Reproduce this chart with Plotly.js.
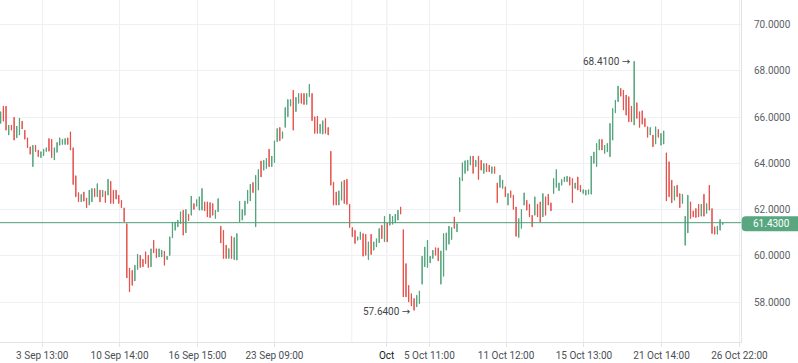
<!DOCTYPE html>
<html><head><meta charset="utf-8">
<script src="https://cdn.plot.ly/plotly-3.0.1.min.js"></script>
<style>html,body{margin:0;padding:0;background:#fff;overflow:hidden}#chart{width:798px;height:363px}</style>
</head><body><div id="chart"></div>
<script>
// ---- data ----
const openP = [
65.72,66.47,66.47,65.22,65.65,65.99,65.10,65.22,65.82,65.43,
65.10,64.71,63.85,64.78,64.57,64.24,64.32,64.50,65.07,65.04,
64.14,64.47,64.78,64.81,64.81,65.10,65.36,64.67,63.46,62.73,
62.33,62.76,62.50,62.19,62.33,62.91,62.55,62.84,62.55,62.79,
62.62,63.22,62.84,62.84,62.62,62.40,62.07,61.39,59.47,59.37,
58.91,59.40,60.02,59.85,60.17,60.02,59.52,60.67,60.30,59.95,
59.95,60.20,59.83,60.01,60.77,61.10,61.25,61.39,61.97,60.99,
61.80,61.75,62.26,62.14,61.97,61.97,62.33,62.33,62.30,62.26,
61.61,61.90,61.28,61.10,60.46,59.88,60.84,59.83,59.81,61.46,
61.54,61.75,62.26,62.37,63.17,61.25,62.84,64.10,63.70,63.77,
64.61,63.85,64.03,64.93,65.55,65.07,65.55,66.01,66.47,67.16,
66.23,66.59,67.02,67.02,66.54,66.88,67.02,66.01,66.04,65.29,
65.26,65.94,65.55,64.52,63.18,62.76,62.19,62.40,63.27,63.31,
62.23,61.22,61.10,60.67,60.70,60.96,60.93,59.83,60.93,60.24,
60.38,60.56,61.32,60.60,61.42,61.32,61.36,61.42,61.54,62.11,
61.13,59.66,58.72,58.36,58.15,57.79,57.93,58.77,59.52,59.49,
59.69,59.88,60.35,60.34,58.77,59.11,60.24,60.50,60.70,61.68,
61.03,61.90,63.24,63.56,63.67,63.92,64.31,63.85,64.31,64.13,
63.56,63.99,63.92,63.56,63.85,63.15,62.95,62.91,62.98,62.19,
62.81,62.62,62.11,60.79,61.18,62.19,62.40,62.23,61.75,61.75,
62.23,62.33,61.68,62.55,62.66,62.29,62.69,62.95,62.81,63.05,
63.20,63.20,63.41,63.34,62.91,63.41,63.05,62.69,62.62,62.66,
62.66,63.99,63.85,64.57,65.03,64.42,64.49,64.28,65.00,66.18,
66.66,67.24,67.16,66.95,66.88,66.47,65.65,66.62,66.23,66.27,
65.94,65.58,65.22,65.22,64.83,65.46,64.78,64.83,64.45,64.06,
63.27,62.40,63.05,62.69,62.26,60.45,60.99,62.33,61.94,62.04,
62.23,61.71,62.66,61.83,63.05,62.04,61.25,60.93,61.10,61.35];
const highP = [
66.23,66.47,66.47,65.65,65.65,65.99,65.61,65.95,65.82,65.43,
65.10,64.71,64.78,64.78,64.57,64.50,64.61,64.67,65.07,65.04,
64.67,64.90,65.10,65.03,65.07,65.10,65.36,64.67,63.46,62.73,
62.65,62.76,62.50,62.84,62.91,62.91,63.12,62.84,62.84,62.79,
63.31,63.22,62.84,62.84,62.62,62.40,62.07,61.39,59.47,59.37,
59.59,60.07,60.02,59.85,60.17,60.02,60.30,60.67,60.30,60.30,
60.24,60.20,59.98,60.82,61.46,61.46,61.54,61.90,61.97,62.00,
61.80,62.58,62.26,62.43,62.55,62.91,62.33,62.33,62.30,62.26,
61.97,62.47,61.28,61.10,60.46,60.31,60.84,60.79,60.96,62.36,
62.00,62.37,62.84,63.10,63.17,63.48,63.73,64.10,64.13,64.21,
64.61,64.31,64.97,65.50,65.55,65.36,66.41,66.76,66.76,67.16,
66.85,67.02,67.02,67.02,67.02,67.42,67.02,66.01,66.04,65.69,
65.84,65.94,65.55,64.52,63.18,62.76,62.81,63.20,63.27,63.31,
62.23,61.22,61.10,60.82,61.03,60.96,60.93,60.60,60.93,60.60,
60.74,61.18,61.32,61.71,61.42,61.80,61.71,61.80,61.97,62.11,
61.13,59.66,58.72,58.36,58.15,58.29,58.48,59.98,60.38,60.67,
59.98,60.24,60.35,60.34,60.21,60.96,60.99,61.28,61.22,61.68,
61.39,63.38,64.02,64.11,64.13,64.31,64.31,64.13,64.31,64.13,
63.99,63.99,63.92,63.85,63.85,63.15,63.48,63.27,62.98,62.69,
62.81,62.62,62.11,61.61,62.00,62.72,62.40,62.23,61.75,62.55,
62.23,62.33,62.69,62.55,62.66,62.29,63.34,63.73,63.15,63.30,
63.41,63.44,63.41,63.34,63.15,63.41,63.05,62.86,62.84,62.86,
64.31,64.49,64.86,65.03,65.03,64.78,64.86,65.72,66.37,66.73,
67.34,67.24,67.16,66.95,66.88,66.47,68.41,66.62,66.23,66.27,
65.94,65.58,65.55,65.22,65.58,65.46,65.29,65.40,64.45,64.06,
63.27,63.01,63.05,62.69,62.66,61.71,62.62,62.33,61.94,62.04,
62.23,62.23,62.66,62.26,63.05,62.04,61.25,61.28,61.57,61.45];
const lowP = [
65.72,65.82,65.43,65.22,65.43,65.00,65.10,65.22,65.48,65.04,
64.67,64.39,63.85,64.50,64.28,64.24,64.32,64.50,64.52,64.24,
64.14,64.47,64.78,64.81,64.81,64.81,64.57,63.08,62.55,62.33,
62.33,62.36,62.07,62.19,62.33,62.55,62.55,62.33,62.55,62.30,
62.62,62.26,62.26,62.45,62.26,62.07,61.47,59.04,58.44,58.72,
58.91,59.40,59.49,59.52,59.66,59.49,59.52,60.12,59.91,59.95,
59.95,59.59,59.83,60.01,60.77,61.10,61.25,61.39,60.89,60.99,
61.51,61.75,62.00,62.14,61.97,61.97,61.94,61.68,61.65,61.75,
61.61,61.90,60.55,59.88,59.88,59.88,59.88,59.83,59.81,61.46,
61.54,61.75,62.26,62.37,62.73,61.25,62.84,63.41,63.70,63.77,
63.85,63.85,64.03,64.93,64.97,65.07,65.55,66.01,66.47,65.43,
66.23,66.59,66.59,66.54,66.54,66.88,65.84,65.29,65.29,65.29,
65.26,65.29,65.22,63.05,62.19,62.19,62.19,62.40,62.26,62.22,
61.22,60.82,60.53,60.67,60.70,59.98,60.02,59.83,60.05,60.24,
60.38,60.56,60.74,60.60,60.60,61.32,61.36,61.42,61.54,61.80,
58.22,58.22,58.00,57.83,57.64,57.79,57.93,58.77,59.52,59.49,
59.69,59.88,60.02,59.78,58.77,59.11,60.24,60.50,60.70,61.18,
61.03,61.90,63.24,63.56,63.67,63.92,63.56,63.85,63.30,63.70,
63.56,63.63,63.63,63.56,63.56,62.29,62.95,62.91,62.55,62.19,
62.52,62.00,60.84,60.79,61.18,62.19,61.97,61.68,61.25,61.75,
61.68,61.46,61.68,61.75,62.19,61.94,62.69,62.95,62.81,63.05,
63.20,63.20,63.05,62.29,62.91,62.84,62.76,62.69,62.62,62.66,
62.66,63.99,63.85,64.57,64.57,64.42,64.49,64.28,65.00,66.18,
66.66,66.90,66.30,66.08,65.79,65.79,65.65,65.94,65.55,65.69,
65.58,65.12,65.22,64.71,64.83,65.12,64.78,64.83,62.37,62.55,
62.29,62.40,62.55,62.08,62.26,60.45,60.99,61.61,61.68,61.65,
61.68,61.71,61.71,61.83,61.97,60.96,60.93,60.93,61.10,61.35];
const closeP = [
66.23,65.82,65.43,65.65,65.43,65.00,65.61,65.95,65.48,65.04,
64.67,64.39,64.78,64.50,64.28,64.50,64.61,64.67,64.52,64.24,
64.67,64.90,65.10,65.03,65.07,64.81,64.57,63.08,62.55,62.33,
62.65,62.36,62.07,62.84,62.91,62.55,63.12,62.33,62.84,62.30,
63.31,62.26,62.26,62.45,62.26,62.07,61.47,59.04,58.44,58.72,
59.59,60.07,59.49,59.52,59.66,59.49,60.30,60.12,59.91,60.30,
60.24,59.59,59.98,60.82,61.46,61.46,61.54,61.90,60.89,62.00,
61.51,62.58,62.00,62.43,62.55,62.91,61.94,61.68,61.65,61.75,
61.97,62.47,60.55,59.88,59.88,60.31,59.88,60.79,60.96,62.36,
62.00,62.37,62.84,63.10,62.73,63.48,63.73,63.41,64.13,64.21,
63.85,64.31,64.97,65.50,64.97,65.36,66.41,66.76,66.76,65.43,
66.85,67.02,66.59,66.54,67.02,67.42,65.84,65.29,65.29,65.69,
65.84,65.29,65.22,63.05,62.19,62.19,62.81,63.20,62.26,62.22,
61.22,60.82,60.53,60.82,61.03,59.98,60.02,60.60,60.05,60.60,
60.74,61.18,60.74,61.71,60.60,61.80,61.71,61.80,61.97,61.80,
58.22,58.22,58.00,57.83,57.64,58.29,58.48,59.98,60.38,60.67,
59.98,60.24,60.02,59.78,60.21,60.96,60.99,61.28,61.22,61.18,
61.39,63.38,64.02,64.11,64.13,64.31,63.56,64.13,63.30,63.70,
63.99,63.63,63.63,63.85,63.56,62.29,63.48,63.27,62.55,62.69,
62.52,62.00,60.84,61.61,62.00,62.72,61.97,61.68,61.25,62.55,
61.68,61.46,62.69,61.75,62.19,61.94,63.34,63.73,63.15,63.30,
63.41,63.44,63.05,62.29,63.15,62.84,62.76,62.86,62.84,62.86,
64.31,64.49,64.86,65.03,64.57,64.78,64.86,65.72,66.37,66.73,
67.34,66.90,66.30,66.08,65.79,65.79,68.41,65.94,65.55,65.69,
65.58,65.12,65.55,64.71,65.58,65.12,65.29,65.40,62.37,62.55,
62.29,63.01,62.55,62.08,62.66,61.71,62.62,61.61,61.68,61.65,
61.68,62.23,61.71,62.26,61.97,60.96,60.93,61.28,61.57,61.43];

// time-axis labels (bar-index positions on the time scale)
const tickLabels = ["3 Sep 13:00","10 Sep 14:00","16 Sep 15:00","23 Sep 09:00","Oct","5 Oct 11:00","11 Oct 12:00","15 Oct 13:00","21 Oct 14:00","26 Oct 22:00"];
const tickBars   = [15.5, 44.3, 73.3, 102.0, 143.8, 159.7, 188.3, 217.3, 246.2, 275.2];
const extraGridBar = 130.8;
const priceTicks = [58, 60, 62, 64, 66, 68, 70];

// ---- styling ----
const UP = '#53a47d', DOWN = '#e5534d', LABEL = '#58a780';
const GRID = '#eef0f3', AXIS = '#e0e3e8';
const FONT = 'Roboto, "Open Sans", sans-serif';
const ARROW = '<span style="font-family:\'DejaVu Sans\'">\u2192</span>';
const yRange = [56.27, 71.06];
const xRange = [-0.25, 275.8];

const barIdx = openP.map((_, i) => i);
const last = closeP[closeP.length - 1];
let iMax = 0, iMin = 0;
highP.forEach((v, i) => { if (v > highP[iMax]) iMax = i; });
lowP.forEach((v, i) => { if (v < lowP[iMin]) iMin = i; });

const plotH = 342;
const unitPx = plotH / (yRange[1] - yRange[0]);
const boxTop = last + 6.5 / unitPx, boxBot = last - 8.5 / unitPx;
const rx = 4 / 741, ry = 4 / unitPx, bx0 = 1.001, bx1 = 1.09;
const boxPath = `M${bx0 + rx},${boxTop} L${bx1},${boxTop} L${bx1},${boxBot} L${bx0 + rx},${boxBot} Q${bx0},${boxBot} ${bx0},${boxBot + ry} L${bx0},${boxTop - ry} Q${bx0},${boxTop} ${bx0 + rx},${boxTop} Z`;

const trace = {
  type: 'candlestick',
  x: barIdx, open: openP, high: highP, low: lowP, close: closeP,
  increasing: { line: { color: UP, width: 1 }, fillcolor: UP },
  decreasing: { line: { color: DOWN, width: 1 }, fillcolor: DOWN },
  whiskerwidth: 0,
  hoverinfo: 'skip',
  showlegend: false
};

const layout = {
  width: 798, height: 363,
  margin: { l: 0, r: 57, t: 0, b: 21, pad: 0 },
  paper_bgcolor: '#ffffff', plot_bgcolor: '#ffffff',
  font: { family: FONT, size: 10, color: '#555a60' },
  boxgap: 0.9, boxgroupgap: 0,
  showlegend: false,
  xaxis: {
    range: xRange, rangeslider: { visible: false },
    tickmode: 'array', tickvals: tickBars,
    ticktext: tickLabels.map(t => t === 'Oct' ? '<span style="color:#131722">Oct</span>' : t),
    showgrid: true, gridcolor: GRID, gridwidth: 1, zeroline: false,
    showline: true, linecolor: AXIS, linewidth: 1,
    ticks: 'outside', ticklen: 4, tickcolor: AXIS, tickwidth: 1,
    tickfont: { family: FONT, size: 10, color: '#4a4f55' },
    fixedrange: true
  },
  yaxis: {
    side: 'right', range: yRange,
    tickmode: 'array', tickvals: priceTicks,
    ticktext: priceTicks.map(v => v.toFixed(4)),
    showgrid: true, gridcolor: GRID, gridwidth: 1, zeroline: false,
    showline: true, linecolor: AXIS, linewidth: 1, mirror: false,
    ticks: '', ticklabelstandoff: 10,
    tickfont: { family: FONT, size: 10, color: '#5c6167' },
    fixedrange: true
  },
  shapes: [
    { type: 'line', xref: 'x', yref: 'paper', x0: extraGridBar, x1: extraGridBar, y0: 0, y1: 1,
      line: { color: GRID, width: 1 }, layer: 'below' },
    { type: 'line', xref: 'x', yref: 'paper', x0: tickBars[4], x1: tickBars[4], y0: 0, y1: 1,
      line: { color: '#d8dadd', width: 1 }, layer: 'below' },
    { type: 'line', xref: 'paper', yref: 'y', x0: 0, x1: 1, y0: last, y1: last,
      line: { color: '#4f9d77', width: 1 }, layer: 'above' },
    { type: 'path', xref: 'paper', yref: 'y', path: boxPath,
      fillcolor: LABEL, line: { width: 0 }, layer: 'above' }
  ],
  annotations: [
    { xref: 'paper', yref: 'y', x: 1, y: last, xanchor: 'left', yanchor: 'middle',
      xshift: 10, yshift: -1, showarrow: false, text: last.toFixed(4),
      font: { family: FONT, size: 10, color: '#ffffff' } },
    { xref: 'x', yref: 'y', x: iMax, y: highP[iMax], xanchor: 'right', yanchor: 'middle',
      xshift: -2, showarrow: false, text: highP[iMax].toFixed(4) + ' ' + ARROW,
      font: { family: FONT, size: 10, color: '#3f4449' } },
    { xref: 'x', yref: 'y', x: iMin, y: lowP[iMin], xanchor: 'right', yanchor: 'middle',
      xshift: -2, yshift: -1, showarrow: false, text: lowP[iMin].toFixed(4) + ' ' + ARROW,
      font: { family: FONT, size: 10, color: '#3f4449' } }
  ]
};

Plotly.newPlot('chart', [trace], layout, { displayModeBar: false, staticPlot: true, responsive: false });
</script>
</body></html>
